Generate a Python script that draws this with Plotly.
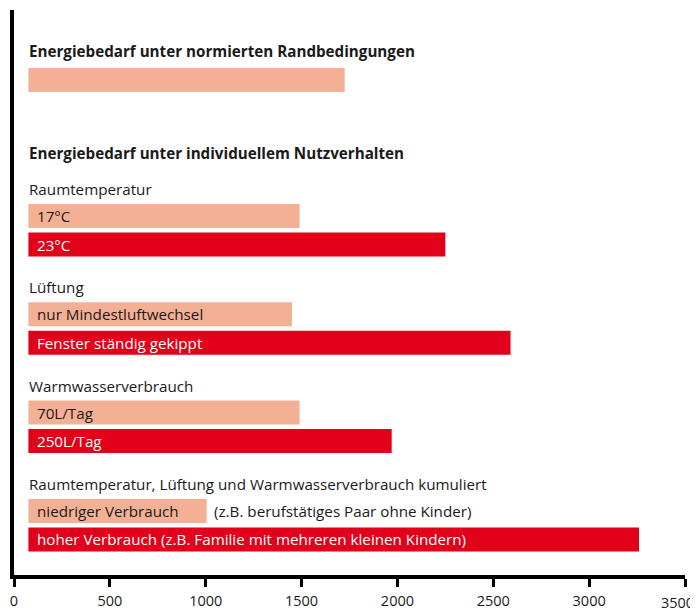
import plotly.graph_objects as go

# ---------------- data ----------------
NORM_TITLE = "Energiebedarf unter normierten Randbedingungen"
NORM_VALUE = 1725
INDIV_TITLE = "Energiebedarf unter individuellem Nutzverhalten"

GROUP_TITLES = ["Raumtemperatur", "Lüftung", "Warmwasserverbrauch",
                "Raumtemperatur, Lüftung und Warmwasserverbrauch kumuliert"]
LOW_LABELS = ["17°C", "nur Mindestluftwechsel", "70L/Tag", "niedriger Verbrauch"]
LOW_VALUES = [1490, 1450, 1490, 1005]
LOW_NOTES = ["", "", "", "(z.B. berufstätiges Paar ohne Kinder)"]
HIGH_LABELS = ["23°C", "Fenster ständig gekippt", "250L/Tag",
               "hoher Verbrauch (z.B. Familie mit mehreren kleinen Kindern)"]
HIGH_VALUES = [2250, 2590, 1970, 3260]
TICK_VALUES = [0, 500, 1000, 1500, 2000, 2500, 3000, 3500]
TICK_LABELS = [str(v) for v in TICK_VALUES]

# ---------------- layout / style ----------------
BAR_BASE = 75          # bars start slightly right of the axis line
LIGHT = "#F4B094"
DARK = "#E2001A"
INK = "#1a1a1a"
FONT = "Open Sans"
FS = 15.2
TICK_FS = 14.5
PAGE_OFFSET = 8        # default body margin of the html page

# vertical layout (y axis units, reversed)
NORM_Y = 80
NORM_TITLE_Y = 51
INDIV_TITLE_Y = 153
GROUP_START = 216
GROUP_STEP = 98.3
PAIR_GAP = 28.5
HEAD_OFFSET = 27
BAR_H = 24

low_y = [GROUP_START + GROUP_STEP * g for g in range(len(GROUP_TITLES))]
high_y = [y + PAIR_GAP for y in low_y]
head_y = [y - HEAD_OFFSET for y in low_y]

fig = go.Figure()

def add_bars(values, ys, color):
    fig.add_trace(go.Bar(
        x=[v - BAR_BASE for v in values], y=ys, base=BAR_BASE,
        orientation="h", width=BAR_H, marker=dict(color=color, line=dict(width=0)),
        showlegend=False, hoverinfo="skip"))

add_bars([NORM_VALUE], [NORM_Y], LIGHT)
add_bars(LOW_VALUES, low_y, LIGHT)
add_bars(HIGH_VALUES, high_y, DARK)

ann = []
def text(x, y, s, color=INK, bold=False, xshift=0, size=FS):
    ann.append(dict(x=x, y=y, xref="x", yref="y", text=("<b>%s</b>" % s) if bold else s,
                    showarrow=False, xanchor="left", yanchor="middle", xshift=xshift,
                    font=dict(family=FONT, size=size, color=color)))

text(BAR_BASE, NORM_TITLE_Y, NORM_TITLE, bold=True, xshift=-1)
text(BAR_BASE, INDIV_TITLE_Y, INDIV_TITLE, bold=True, xshift=-1)
for i, t in enumerate(GROUP_TITLES):
    text(BAR_BASE, head_y[i], t, xshift=-1)
    text(BAR_BASE, low_y[i], LOW_LABELS[i], color=INK, xshift=7)
    text(BAR_BASE, high_y[i], HIGH_LABELS[i], color="white", xshift=7)
    if LOW_NOTES[i]:
        text(LOW_VALUES[i], low_y[i], LOW_NOTES[i], xshift=5)

# last tick label is right-aligned to the edge of the picture (as in the reference)
ann.append(dict(x=1, y=0, xref="paper", yref="paper", text=TICK_LABELS[-1],
                showarrow=False, xanchor="right", yanchor="middle", xshift=11, yshift=-27,
                font=dict(family=FONT, size=TICK_FS, color=INK)))

W, H = 698 - PAGE_OFFSET, 613 - PAGE_OFFSET
fig.update_layout(
    width=W, height=H,
    margin=dict(l=14 - PAGE_OFFSET, r=13, t=10 - PAGE_OFFSET, b=38, autoexpand=False),
    paper_bgcolor="white", plot_bgcolor="white",
    barmode="overlay",
    annotations=ann,
    xaxis=dict(range=[0, 3500], tickvals=TICK_VALUES,
               ticktext=TICK_LABELS[:-1] + [""],
               showgrid=False, zeroline=False,
               showline=True, linecolor="black", linewidth=3.5,
               ticks="outside", ticklen=8, tickwidth=3, tickcolor="black",
               ticklabeloverflow="allow", ticklabelstandoff=2, automargin=False,
               tickfont=dict(family=FONT, size=TICK_FS, color=INK)),
    yaxis=dict(range=[575, 10], showgrid=False, zeroline=False, showticklabels=False,
               showline=True, linecolor="black", linewidth=3.5, ticks="", automargin=False),
)

fig.write_html("out.html")
